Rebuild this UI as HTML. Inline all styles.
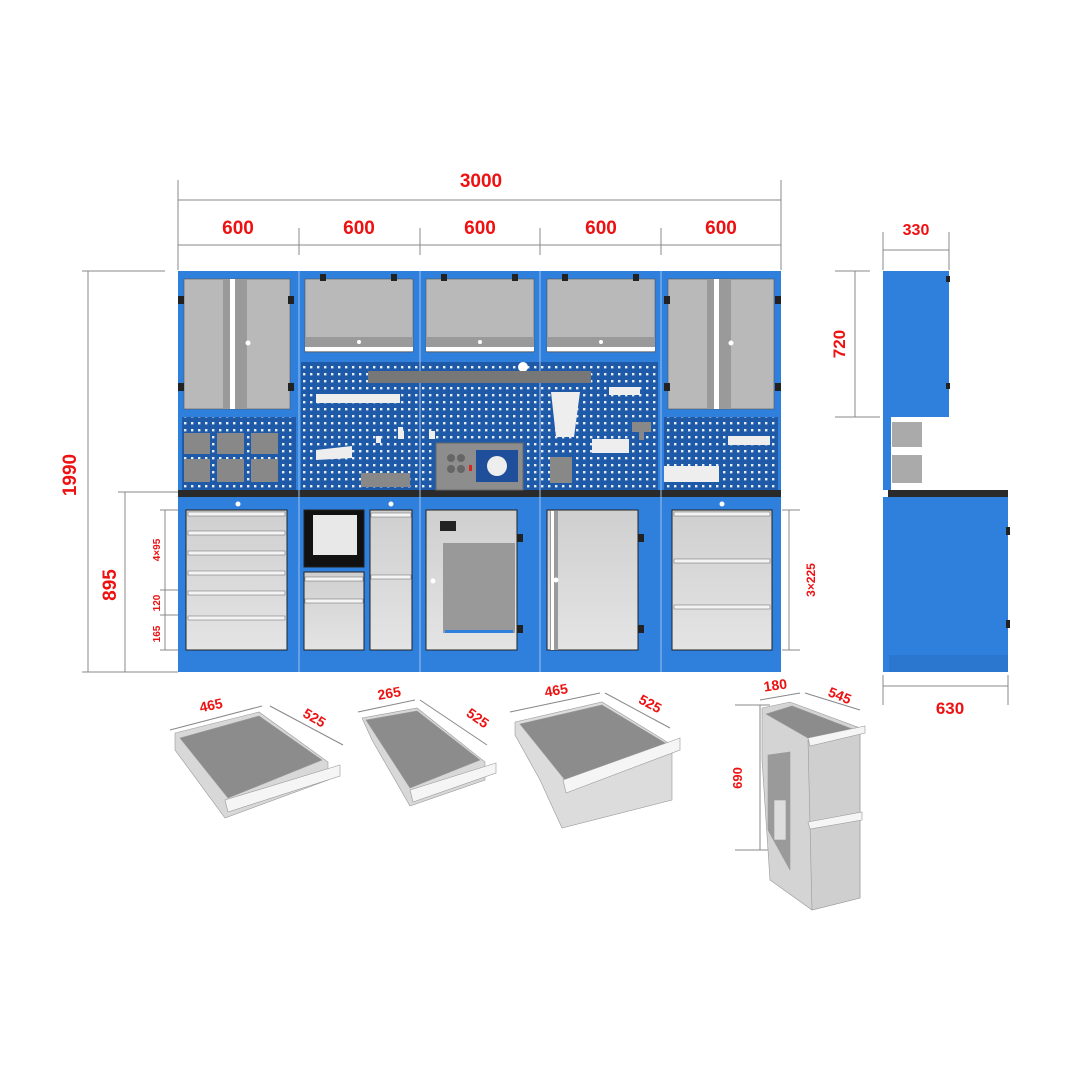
<!DOCTYPE html>
<html><head><meta charset="utf-8"><style>
html,body{margin:0;padding:0;background:#fff}
svg{display:block}
text{font-family:"Liberation Sans",Arial,sans-serif;font-weight:bold;fill:#ee1111}
</style></head><body>
<svg width="1080" height="1080" viewBox="0 0 1080 1080" xmlns="http://www.w3.org/2000/svg">
<defs>
<pattern id="holes" x="0" y="0" width="7" height="7" patternUnits="userSpaceOnUse">
<rect width="7" height="7" fill="#1f5aa8"/><rect x="2" y="2" width="2.4" height="2.4" fill="#e8eef8"/>
</pattern>
<linearGradient id="dg" x1="0" y1="0" x2="0" y2="1"><stop offset="0" stop-color="#cfcfcf"/><stop offset="1" stop-color="#e4e4e4"/></linearGradient>
</defs>
<g stroke="#888" stroke-width="1" fill="none">
<line x1="178" y1="200" x2="781" y2="200"/>
<line x1="178" y1="180" x2="178" y2="270"/><line x1="781" y1="180" x2="781" y2="270"/>
<line x1="178" y1="245" x2="781" y2="245"/>
<line x1="299" y1="228" x2="299" y2="255"/><line x1="420" y1="228" x2="420" y2="255"/><line x1="540" y1="228" x2="540" y2="255"/><line x1="661" y1="228" x2="661" y2="255"/>
<line x1="88" y1="271" x2="88" y2="672"/><line x1="82" y1="271" x2="165" y2="271"/><line x1="82" y1="672" x2="178" y2="672"/>
<line x1="125" y1="492" x2="125" y2="672"/><line x1="118" y1="492" x2="178" y2="492"/>
<line x1="165" y1="510" x2="165" y2="650"/><line x1="160" y1="510" x2="185" y2="510"/><line x1="160" y1="590" x2="185" y2="590"/><line x1="160" y1="615" x2="185" y2="615"/><line x1="160" y1="650" x2="185" y2="650"/>
<line x1="789" y1="510" x2="789" y2="650"/><line x1="782" y1="510" x2="800" y2="510"/><line x1="782" y1="650" x2="800" y2="650"/>
<line x1="883" y1="250" x2="949" y2="250"/><line x1="883" y1="232" x2="883" y2="270"/><line x1="949" y1="232" x2="949" y2="270"/>
<line x1="855" y1="271" x2="855" y2="417"/><line x1="835" y1="271" x2="870" y2="271"/><line x1="835" y1="417" x2="880" y2="417"/>
<line x1="883" y1="686" x2="1008" y2="686"/><line x1="883" y1="675" x2="883" y2="705"/><line x1="1008" y1="675" x2="1008" y2="705"/>
<line x1="760" y1="705" x2="760" y2="850"/><line x1="735" y1="705" x2="770" y2="705"/><line x1="735" y1="850" x2="770" y2="850"/>
<line x1="170" y1="730" x2="262" y2="706"/><line x1="270" y1="706" x2="343" y2="745"/>
<line x1="358" y1="712" x2="415" y2="700"/><line x1="420" y1="700" x2="487" y2="745"/>
<line x1="510" y1="712" x2="600" y2="693"/><line x1="605" y1="693" x2="670" y2="728"/>
<line x1="760" y1="700" x2="800" y2="693"/><line x1="805" y1="693" x2="860" y2="710"/>
</g>
<text x="481" y="187" font-size="19" text-anchor="middle">3000</text>
<text x="238" y="234" font-size="19" text-anchor="middle">600</text>
<text x="359" y="234" font-size="19" text-anchor="middle">600</text>
<text x="480" y="234" font-size="19" text-anchor="middle">600</text>
<text x="601" y="234" font-size="19" text-anchor="middle">600</text>
<text x="721" y="234" font-size="19" text-anchor="middle">600</text>
<text x="916" y="235" font-size="16" text-anchor="middle">330</text>
<text x="950" y="714" font-size="17" text-anchor="middle">630</text>
<text transform="translate(76,475) rotate(-90)" font-size="19" text-anchor="middle">1990</text>
<text transform="translate(116,585) rotate(-90)" font-size="19" text-anchor="middle">895</text>
<text transform="translate(845,344) rotate(-90)" font-size="17" text-anchor="middle">720</text>
<text transform="translate(160,550) rotate(-90)" font-size="10" text-anchor="middle">4×95</text>
<text transform="translate(160,603) rotate(-90)" font-size="10" text-anchor="middle">120</text>
<text transform="translate(160,634) rotate(-90)" font-size="10" text-anchor="middle">165</text>
<text transform="translate(815,580) rotate(-90)" font-size="12" text-anchor="middle">3×225</text>
<text transform="translate(742,778) rotate(-90)" font-size="13" text-anchor="middle">690</text>
<text x="212" y="710" font-size="14" transform="rotate(-12 212 710)" text-anchor="middle">465</text>
<text x="312" y="722" font-size="14" transform="rotate(30 312 722)" text-anchor="middle">525</text>
<text x="390" y="698" font-size="14" transform="rotate(-10 390 698)" text-anchor="middle">265</text>
<text x="475" y="722" font-size="14" transform="rotate(35 475 722)" text-anchor="middle">525</text>
<text x="557" y="695" font-size="14" transform="rotate(-10 557 695)" text-anchor="middle">465</text>
<text x="648" y="708" font-size="14" transform="rotate(28 648 708)" text-anchor="middle">525</text>
<text x="776" y="690" font-size="14" transform="rotate(-8 776 690)" text-anchor="middle">180</text>
<text x="838" y="700" font-size="14" transform="rotate(22 838 700)" text-anchor="middle">545</text>

<!-- main frame -->
<rect x="178" y="271" width="603" height="401" fill="#2f80dd"/>
<rect x="182" y="417" width="114" height="73" fill="url(#holes)"/>
<rect x="301" y="362" width="357" height="128" fill="url(#holes)"/>
<rect x="664" y="417" width="114" height="73" fill="url(#holes)"/>
<rect x="178" y="490" width="603" height="7" fill="#2a2a2a"/>
<g stroke="#9ec2ee" stroke-width="1"><line x1="299" y1="271" x2="299" y2="672"/><line x1="420" y1="271" x2="420" y2="672"/><line x1="540" y1="271" x2="540" y2="672"/><line x1="661" y1="271" x2="661" y2="672"/></g>
<!-- upper doors -->
<g fill="#b9b9b9" stroke="#555" stroke-width="0.6">
<rect x="184" y="279" width="106" height="130"/><rect x="668" y="279" width="106" height="130"/>
<rect x="305" y="279" width="108" height="73"/><rect x="426" y="279" width="108" height="73"/><rect x="547" y="279" width="108" height="73"/>
</g>
<g fill="#9a9a9a"><rect x="305" y="337" width="108" height="10"/><rect x="426" y="337" width="108" height="10"/><rect x="547" y="337" width="108" height="10"/>
<rect x="223" y="279" width="24" height="130"/><rect x="707" y="279" width="24" height="130"/></g>
<g fill="#fff"><rect x="230" y="279" width="5" height="130"/><rect x="714" y="279" width="5" height="130"/>
<rect x="305" y="347" width="108" height="4"/><rect x="426" y="347" width="108" height="4"/><rect x="547" y="347" width="108" height="4"/>
<circle cx="248" cy="343" r="2.5"/><circle cx="731" cy="343" r="2.5"/><circle cx="359" cy="342" r="2"/><circle cx="480" cy="342" r="2"/><circle cx="601" cy="342" r="2"/><circle cx="523" cy="367" r="5"/></g>
<g fill="#222"><rect x="178" y="296" width="6" height="8"/><rect x="178" y="383" width="6" height="8"/><rect x="288" y="296" width="6" height="8"/><rect x="288" y="383" width="6" height="8"/>
<rect x="664" y="296" width="6" height="8"/><rect x="664" y="383" width="6" height="8"/><rect x="775" y="296" width="6" height="8"/><rect x="775" y="383" width="6" height="8"/>
<rect x="320" y="274" width="6" height="7"/><rect x="391" y="274" width="6" height="7"/><rect x="441" y="274" width="6" height="7"/><rect x="512" y="274" width="6" height="7"/><rect x="562" y="274" width="6" height="7"/><rect x="633" y="274" width="6" height="7"/></g>
<!-- pegboard items -->
<rect x="368" y="371" width="223" height="12" fill="#777"/>
<g fill="#eee"><rect x="316" y="394" width="84" height="9"/><polygon points="316,450 352,446 352,458 316,460"/>
<rect x="429" y="431" width="6" height="8"/><rect x="398" y="431" width="6" height="8"/><rect x="376" y="436" width="5" height="7"/><rect x="398" y="427" width="5" height="7"/>
<rect x="609" y="387" width="31" height="8"/><rect x="592" y="439" width="37" height="14"/><rect x="728" y="436" width="42" height="9"/><rect x="664" y="466" width="55" height="16"/>
<polygon points="551,392 580,392 574,437 556,437"/></g>
<g fill="#888"><rect x="184" y="433" width="26" height="21"/><rect x="217" y="433" width="27" height="21"/><rect x="251" y="433" width="27" height="21"/><rect x="184" y="459" width="26" height="23"/><rect x="217" y="459" width="27" height="23"/><rect x="251" y="459" width="27" height="23"/>
<rect x="361" y="473" width="49" height="14"/><rect x="550" y="457" width="22" height="26"/><rect x="632" y="422" width="19" height="10"/><rect x="639" y="430" width="5" height="10"/></g>
<rect x="436" y="443" width="87" height="47" fill="#8d8d8d" stroke="#666"/>
<rect x="476" y="450" width="42" height="32" fill="#1f4f9a"/><circle cx="497" cy="466" r="10" fill="#eee"/>
<g fill="#666"><circle cx="451" cy="458" r="4"/><circle cx="461" cy="458" r="4"/><circle cx="451" cy="469" r="4"/><circle cx="461" cy="469" r="4"/></g>
<rect x="469" y="465" width="3" height="6" fill="#d22"/>
<!-- lower -->
<g fill="url(#dg)" stroke="#222" stroke-width="1">
<rect x="186" y="510" width="101" height="140"/>
<rect x="304" y="510" width="60" height="57" fill="#111"/>
<rect x="304" y="572" width="60" height="78"/>
<rect x="370" y="510" width="42" height="140"/>
<rect x="426" y="510" width="91" height="140"/>
<rect x="547" y="510" width="91" height="140"/>
<rect x="672" y="510" width="100" height="140"/>
</g>
<rect x="313" y="515" width="44" height="40" fill="#e8e8e8"/>
<rect x="443" y="543" width="72" height="90" fill="#999"/><rect x="445" y="630" width="68" height="3" fill="#2f80dd"/>
<rect x="440" y="521" width="16" height="10" fill="#222"/>
<rect x="550" y="511" width="8" height="139" fill="#9a9a9a"/><rect x="551" y="511" width="3" height="139" fill="#fff"/>
<g fill="#f4f4f4" stroke="#666" stroke-width="0.5">
<rect x="188" y="512" width="97" height="4"/><rect x="188" y="531" width="97" height="4"/><rect x="188" y="551" width="97" height="4"/><rect x="188" y="571" width="97" height="4"/><rect x="188" y="591" width="97" height="4"/><rect x="188" y="616" width="97" height="4"/>
<rect x="305" y="577" width="58" height="4"/><rect x="305" y="599" width="58" height="4"/><rect x="371" y="513" width="40" height="4"/><rect x="371" y="575" width="40" height="4"/>
<rect x="674" y="512" width="96" height="4"/><rect x="674" y="559" width="96" height="4"/><rect x="674" y="605" width="96" height="4"/>
</g>
<g fill="#222"><rect x="517" y="534" width="6" height="8"/><rect x="517" y="625" width="6" height="8"/><rect x="638" y="534" width="6" height="8"/><rect x="638" y="625" width="6" height="8"/></g>
<g fill="#fff"><circle cx="433" cy="581" r="2.5"/><circle cx="556" cy="580" r="2.5"/><circle cx="238" cy="504" r="2.5"/><circle cx="391" cy="504" r="2.5"/><circle cx="722" cy="504" r="2.5"/></g>
<!-- side view -->
<rect x="883" y="271" width="66" height="146" fill="#2f80dd"/>
<rect x="883" y="417" width="8" height="73" fill="#2f80dd"/>
<rect x="892" y="422" width="30" height="25" fill="#aaa"/><rect x="892" y="455" width="30" height="28" fill="#aaa"/>
<rect x="888" y="490" width="120" height="7" fill="#2a2a2a"/>
<rect x="883" y="497" width="125" height="175" fill="#2f80dd"/>
<rect x="889" y="655" width="119" height="17" fill="#2b76cf"/>
<g fill="#222"><rect x="946" y="276" width="4" height="6"/><rect x="946" y="383" width="4" height="6"/><rect x="1006" y="527" width="4" height="8"/><rect x="1006" y="620" width="4" height="8"/></g>
<!-- drawers -->
<g stroke="#999" stroke-width="0.6">
<polygon points="175,733 259,712 328,762 328,780 225,818 175,750" fill="#d8d8d8"/>
<polygon points="180,738 259,716 322,760 228,798" fill="#8c8c8c"/>
<polygon points="225,800 340,765 340,776 228,812" fill="#f5f5f5"/>
<polygon points="362,718 417,708 485,762 485,780 410,806 372,740" fill="#d8d8d8"/>
<polygon points="366,720 417,711 480,760 410,788" fill="#8c8c8c"/>
<polygon points="410,790 496,763 496,773 413,802" fill="#f5f5f5"/>
<polygon points="515,722 602,702 672,745 672,800 562,828 540,780 515,735" fill="#dcdcdc"/>
<polygon points="520,724 602,705 667,744 565,780" fill="#8c8c8c"/>
<polygon points="563,780 680,738 680,750 566,793" fill="#f5f5f5"/>
<polygon points="762,708 790,702 860,728 860,898 812,910 770,880 762,760" fill="#d4d4d4"/>
<polygon points="808,740 860,728 860,898 812,910" fill="#cfcfcf"/>
<polygon points="766,714 792,706 855,730 808,738" fill="#8c8c8c"/>
<polygon points="768,755 790,752 790,870 768,830" fill="#9a9a9a"/>
<rect x="774" y="800" width="12" height="40" fill="#ddd"/>
<polygon points="808,738 865,726 865,733 810,746" fill="#f5f5f5"/>
<polygon points="808,822 862,812 862,820 810,829" fill="#f5f5f5"/>
</g>
</svg>
</body></html>
